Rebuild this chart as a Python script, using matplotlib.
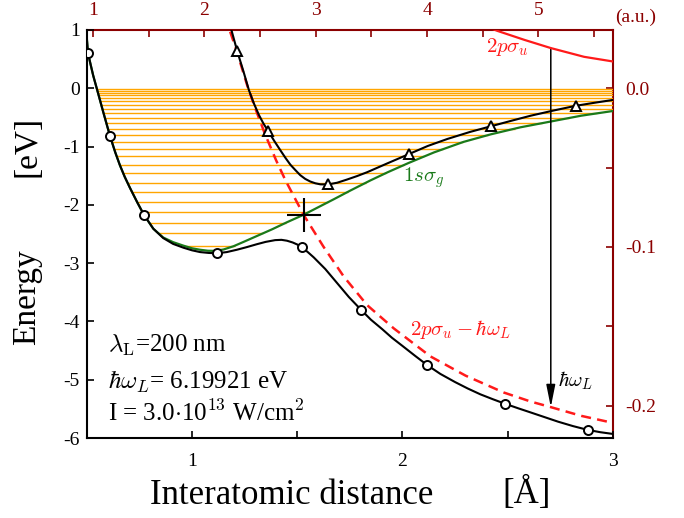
import numpy as np
import matplotlib
matplotlib.use('Agg')
import matplotlib.pyplot as plt
from matplotlib.ticker import FixedLocator, FormatStrFormatter

plt.rcParams['font.family'] = 'serif'
plt.rcParams['font.serif'] = ['Liberation Serif', 'DejaVu Serif']
plt.rcParams['mathtext.fontset'] = 'cm'
plt.rcParams['axes.unicode_minus'] = False

### curves (R in Angstrom, E in eV)

# 1s sigma_g
sg_x = [0.50, 0.505, 0.517, 0.53, 0.543, 0.556, 0.578, 0.61, 0.635, 0.657, 0.68, 0.705, 0.74,
        0.771, 0.816, 0.863, 0.91, 0.959, 1.00, 1.038, 1.075, 1.11, 1.15, 1.197, 1.245, 1.292,
        1.38, 1.45, 1.53, 1.60, 1.673, 1.752, 1.848, 1.93, 2.03, 2.15, 2.29, 2.42, 2.56, 2.705,
        2.85, 3.0]
sg_e = [0.85, 0.61, 0.42, 0.22, 0.05, -0.12, -0.41, -0.82, -1.10, -1.32, -1.52, -1.71, -1.96,
        -2.17, -2.41, -2.56, -2.64, -2.70, -2.745, -2.77, -2.787, -2.79, -2.765, -2.71, -2.635, -2.56,
        -2.42, -2.30, -2.17, -2.04, -1.905, -1.755, -1.58, -1.44, -1.28, -1.10, -0.92, -0.79, -0.67,
        -0.57, -0.47, -0.39]

# 2p sigma_u
pu_x = [2.42, 2.451, 2.58, 2.705, 2.863, 3.0]
pu_e = [1.03, 0.985, 0.83, 0.69, 0.54, 0.46]

# 2p sigma_u - hbar omega
pd_x = [1.181, 1.206, 1.235, 1.262, 1.30, 1.346, 1.40, 1.444, 1.53, 1.625, 1.721, 1.832, 1.959,
        2.133, 2.30, 2.482, 2.61, 2.705, 2.85, 3.0]
pd_e = [0.97, 0.71, 0.37, 0.05, -0.34, -0.78, -1.24, -1.58, -2.17, -2.72, -3.23, -3.72, -4.12,
        -4.60, -4.93, -5.22, -5.375, -5.47, -5.62, -5.74]

# lower dressed curve (circles)
lo_x = [0.50, 0.505, 0.517, 0.53, 0.543, 0.556, 0.578, 0.61, 0.635, 0.657, 0.68, 0.705, 0.74,
        0.771, 0.816, 0.863, 0.91, 0.959, 1.00, 1.038, 1.08, 1.12, 1.165, 1.213, 1.26, 1.308,
        1.35, 1.395, 1.425, 1.451, 1.478, 1.50, 1.522, 1.55, 1.578, 1.633, 1.689, 1.745, 1.803,
        1.85, 1.903, 1.95, 2.00, 2.06, 2.118, 2.18, 2.25, 2.31, 2.37, 2.43, 2.486, 2.55, 2.60,
        2.67, 2.74, 2.81, 2.88, 2.94, 3.0]
lo_e = [0.85, 0.61, 0.42, 0.22, 0.05, -0.12, -0.41, -0.82, -1.10, -1.32, -1.52, -1.71, -1.96,
        -2.17, -2.41, -2.57, -2.67, -2.735, -2.78, -2.81, -2.825, -2.83, -2.81, -2.77, -2.725, -2.675,
        -2.635, -2.605, -2.60, -2.615, -2.645, -2.68, -2.73, -2.81, -2.90, -3.10, -3.34, -3.58, -3.80,
        -3.97, -4.13, -4.28, -4.42, -4.59, -4.75, -4.90, -5.04, -5.15, -5.25, -5.335, -5.41, -5.49,
        -5.55, -5.635, -5.72, -5.795, -5.86, -5.90, -5.93]
lo_mx = [0.505, 0.61, 0.771, 1.12, 1.522, 1.803, 2.118, 2.486, 2.88]

# upper dressed curve (triangles)
up_x = [1.187, 1.214, 1.245, 1.27, 1.295, 1.318, 1.34, 1.363, 1.39, 1.419, 1.445, 1.467, 1.49,
        1.514, 1.538, 1.562, 1.586, 1.61, 1.646, 1.69, 1.737, 1.785, 1.832, 1.927, 2.03, 2.12,
        2.213, 2.32, 2.422, 2.52, 2.61, 2.72, 2.824, 2.91, 3.0]
up_e = [1.0, 0.645, 0.28, -0.03, -0.27, -0.46, -0.61, -0.74, -0.90, -1.06, -1.20, -1.31, -1.40,
        -1.49, -1.555, -1.60, -1.63, -1.648, -1.65, -1.62, -1.565, -1.505, -1.44, -1.29, -1.13, -0.99,
        -0.87, -0.75, -0.65, -0.555, -0.47, -0.38, -0.30, -0.25, -0.20]
up_mx = [1.214, 1.363, 1.646, 2.03, 2.422, 2.824]

# vibrational levels
levels = [-0.02, -0.04, -0.085, -0.12, -0.166, -0.222, -0.28, -0.35, -0.43, -0.51, -0.60,
          -0.69, -0.805, -0.92, -1.045, -1.17, -1.315, -1.455, -1.62, -1.78, -1.955, -2.125,
          -2.305, -2.485, -2.70]

cross_x, cross_e = 1.530, -2.17
arrow_x = 2.705

dark = '#8b0000'
green = '#1a7a1a'
red = '#ff1a1a'

fig = plt.figure(figsize=(6.84, 5.18), dpi=100)
ax = fig.add_axes([0.127, 0.1544, 0.769, 0.7877])

sg_x = np.array(sg_x); sg_e = np.array(sg_e)
imin = np.argmin(sg_e)
lx = np.interp(levels, sg_e[:imin + 1][::-1], sg_x[:imin + 1][::-1])
rx = np.interp(levels, sg_e[imin:], sg_x[imin:])
ax.hlines(levels, lx, rx, color='#ffa500', lw=1.0, zorder=1)

ax.plot(sg_x, sg_e, color=green, lw=1.6, zorder=2)
ax.plot(pu_x, pu_e, color=red, lw=1.6, zorder=3)
ax.plot(pd_x, pd_e, color=red, lw=1.8, dashes=(4, 2.5), zorder=3)
ax.plot(lo_x, lo_e, color='k', lw=1.5, zorder=4)
ax.plot(up_x, up_e, color='k', lw=1.5, zorder=4)
ax.plot(lo_mx, np.interp(lo_mx, lo_x, lo_e), 'o', ms=6.5, mfc='white', mec='k', mew=1.4, zorder=5)
ax.plot(up_mx, np.interp(up_mx, up_x, up_e), '^', ms=6.5, mfc='white', mec='k', mew=1.4, zorder=5)
ax.plot(cross_x, cross_e, '+', ms=25, mew=1.5, color='k', zorder=6)

e_top = np.interp(arrow_x, pu_x, pu_e)
e_bot = np.interp(arrow_x, pd_x, pd_e)
ax.annotate('', xy=(arrow_x, e_bot), xytext=(arrow_x, e_top),
            arrowprops=dict(arrowstyle='-|>,head_length=0.9,head_width=0.18', color='k',
                            lw=1.1, mutation_scale=15, shrinkA=0, shrinkB=0), zorder=2)

ax.text(2.5, 0.71, r'$2p\sigma_u$', color=red, fontsize=15, ha='center', va='center')
ax.text(2.1, -1.54, r'$1s\sigma_g$', color=green, fontsize=15, ha='center', va='center')
ax.text(2.276, -4.13, r'$2p\sigma_u-\hbar\omega_L$', color=red, fontsize=15, ha='center', va='center')
ax.text(2.824, -5.02, r'$\hbar\omega_L$', color='k', fontsize=15, ha='center', va='center')

ax.text(0.6, -4.52, r'$\lambda_{\rm L}$=200 nm', fontsize=18, va='baseline')
ax.text(0.6, -5.155, r'$\hbar\omega_L$= 6.19921 eV', fontsize=18, va='baseline')
ax.text(0.6, -5.71, r'I = 3.0$\cdot$10$^{13}$ W/cm$^2$', fontsize=18, va='baseline')

ax.set_xlim(0.5, 3)
ax.set_ylim(-6, 1)
ax.set_xticks([1, 2, 3])
ax.xaxis.set_minor_locator(FixedLocator([1.5, 2.5]))
ax.set_yticks(range(-6, 2))
ax.tick_params(direction='in', length=5, width=1.2, labelsize=14, top=False, right=False)
ax.tick_params(axis='x', which='both', direction='in', length=5, width=1.2, pad=11)
ax.tick_params(axis='y', pad=5)
ax.spines['top'].set_visible(False)
ax.spines['right'].set_visible(False)
for s in ['left', 'bottom']:
    ax.spines[s].set_linewidth(1.5)

secx = ax.secondary_xaxis('top', functions=(lambda a: a / 0.529177, lambda b: b * 0.529177))
secx.set_xticks([1, 2, 3, 4, 5])
secx.xaxis.set_minor_locator(FixedLocator([1.5, 2.5, 3.5, 4.5, 5.5]))
secx.tick_params(which='both', direction='in', length=5, width=1.2, colors=dark, labelsize=14, pad=8)
secx.spines['top'].set_color(dark)
secx.spines['top'].set_linewidth(1.5)

secy = ax.secondary_yaxis('right', functions=(lambda e: e / 27.2114, lambda h: h * 27.2114))
secy.yaxis.set_major_locator(FixedLocator([0.0, -0.1, -0.2]))
secy.yaxis.set_minor_locator(FixedLocator([-0.05, -0.15]))
secy.yaxis.set_major_formatter(FormatStrFormatter('%.1f'))
secy.tick_params(which='both', direction='in', length=5, width=1.2, colors=dark, labelsize=14, pad=9)
secy.spines['right'].set_color(dark)
secy.spines['right'].set_linewidth(1.5)

fig.text(636 / 684, 1 - 17 / 518, '(a.u.)', color=dark, fontsize=14, ha='center', va='center')
fig.text(27 / 684, 1 - 146 / 518, '[eV]', fontsize=24, rotation=90, ha='center', va='center')
fig.text(27 / 684, 1 - 297 / 518, 'Energy', fontsize=24, rotation=90, ha='center', va='center')
fig.text(292 / 684, 1 - 496 / 518, 'Interatomic distance', fontsize=25, ha='center', va='center')
fig.text(527 / 684, 1 - 494 / 518, '[Å]', fontsize=25, ha='center', va='center')

fig.savefig('out.png', dpi=100)
